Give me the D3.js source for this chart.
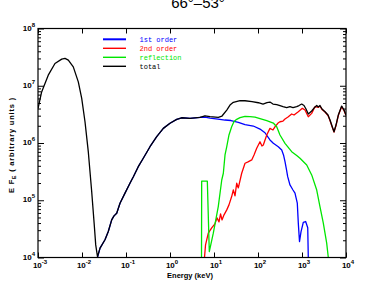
<!DOCTYPE html>
<html>
<head>
<meta charset="utf-8">
<script src="https://cdn.jsdelivr.net/npm/d3@7"></script>
<style>
  html, body { margin: 0; padding: 0; background: #fff; }
  svg { display: block; }
</style>
</head>
<body>
<div id="chart"></div>
<script>
// ---- Data (energy in keV, E·F_E in arbitrary units) ----
const title = "66°–53°";
const xTicks = [1e-3, 1e-2, 1e-1, 1e0, 1e1, 1e2, 1e3, 1e4];
const yTicks = [1e4, 1e5, 1e6, 1e7, 1e8];
const seriesNames = ["1st order", "2nd order", "reflection", "total"];

const totalData = [
  [1.0e-3, 4.0e6], [1.21e-3, 7.8e6], [1.71e-3, 1.53e7], [2.43e-3, 2.45e7], [3.46e-3, 2.92e7],
  [4.11e-3, 3.0e7], [4.89e-3, 2.8e7], [6.34e-3, 2.14e7], [8.24e-3, 1.17e7], [9.85e-3, 6.0e6],
  [1.17e-2, 2.35e6], [1.39e-2, 7.05e5], [1.66e-2, 1.42e5], [1.90e-2, 3.7e4], [2.05e-2, 1.66e4],
  [2.25e-2, 1.03e4], [2.57e-2, 1.46e4], [3.33e-2, 2.04e4], [3.96e-2, 2.84e4], [4.73e-2, 4.54e4],
  [5.34e-2, 5.33e4], [6.15e-2, 5.94e4], [7.31e-2, 8.89e4], [9.49e-2, 1.33e5], [0.123, 1.98e5],
  [0.147, 2.58e5], [0.190, 3.86e5], [0.247, 5.41e5], [0.351, 8.61e5], [0.499, 1.29e6],
  [0.705, 1.80e6], [1.0, 2.21e6], [1.42, 2.59e6], [1.84, 2.76e6], [2.85, 2.70e6], [4.81, 2.81e6],
  [6.24, 2.99e6], [8.11, 2.88e6], [12.5, 2.81e6], [15.2, 2.96e6], [19.5, 3.76e6], [23.1, 4.60e6],
  [27.5, 5.13e6], [39.0, 5.51e6], [50.7, 5.47e6], [73.1, 5.30e6], [102, 5.05e6], [130, 4.79e6],
  [160, 5.08e6], [187, 5.19e6], [219, 4.79e6], [266, 4.69e6], [316, 4.51e6], [370, 4.33e6],
  [449, 4.16e6], [533, 4.33e6], [624, 4.16e6], [758, 4.33e6], [855, 4.51e6], [985, 4.79e6],
  [1110, 4.51e6], [1233, 3.92e6], [1390, 3.21e6], [1660, 3.62e6], [1875, 4.08e6], [2160, 4.51e6],
  [2345, 4.25e6], [2560, 4.51e6], [2850, 3.92e6], [3335, 3.52e6], [3900, 3.08e6], [4330, 2.52e6],
  [4810, 1.98e6], [5340, 1.57e6], [5930, 2.06e6], [6690, 3.08e6], [7980, 4.42e6], [9010, 3.76e6],
  [10000, 3.08e6]
];

const firstOrderData = [
  [2.25e-2, 1.0e4], [2.57e-2, 1.46e4], [3.33e-2, 2.04e4], [3.96e-2, 2.84e4], [4.73e-2, 4.54e4],
  [5.34e-2, 5.33e4], [6.15e-2, 5.94e4], [7.31e-2, 8.89e4], [9.49e-2, 1.33e5], [0.123, 1.98e5],
  [0.147, 2.58e5], [0.190, 3.86e5], [0.247, 5.41e5], [0.351, 8.61e5], [0.499, 1.29e6],
  [0.705, 1.80e6], [1.0, 2.21e6], [1.42, 2.59e6], [1.84, 2.76e6], [2.85, 2.70e6], [4.81, 2.81e6],
  [6.24, 2.84e6], [8.11, 2.73e6], [12.3, 2.62e6], [17.8, 2.52e6], [24.3, 2.47e6], [35.7, 2.30e6],
  [50.7, 2.10e6], [78.2, 1.98e6], [111, 1.75e6], [144, 1.51e6], [187, 1.13e6], [223, 9.88e5],
  [289, 8.61e5], [346, 7.55e5], [380, 6.18e5], [411, 4.72e5], [445, 3.38e5], [473, 2.58e5],
  [533, 1.85e5], [624, 1.51e5], [693, 1.33e5], [782, 8.89e4], [824, 3.98e4], [877, 1.90e4],
  [949, 2.80e4], [1070, 4.11e4], [1210, 4.25e4], [1350, 3.30e4], [1390, 1.0e4]
];

const secondOrderData = [
  [6.08, 1.0e4], [6.42, 1.66e4], [7.42, 2.66e4], [8.87, 3.29e4], [10.5, 3.87e4], [11.7, 4.92e4],
  [13.0, 4.19e4], [14.1, 5.78e4], [15.2, 4.54e4], [16.9, 5.56e4], [19.5, 6.79e4], [21.9, 8.30e4],
  [25.2, 1.16e5], [27.5, 1.51e5], [30.0, 1.19e5], [32.8, 1.98e5], [35.7, 1.64e5], [42.6, 2.96e5],
  [50.7, 4.43e5], [59.3, 4.67e5], [72.0, 5.06e5], [81.2, 6.18e5], [93.4, 8.09e5], [111, 1.05e6],
  [123, 8.87e5], [132, 9.24e5], [158, 1.38e6], [187, 1.80e6], [219, 1.69e6], [243, 1.92e6],
  [285, 2.23e6], [316, 2.35e6], [370, 2.42e6], [411, 2.62e6], [481, 2.84e6], [583, 3.21e6],
  [658, 3.08e6], [824, 3.52e6], [1020, 4.03e6], [1170, 3.76e6], [1390, 2.88e6], [1660, 3.29e6],
  [1970, 4.30e6], [2345, 4.20e6], [2560, 4.40e6], [2850, 3.85e6], [3335, 3.48e6], [3900, 3.02e6],
  [4330, 2.47e6], [4810, 1.94e6], [5340, 1.55e6], [5930, 2.02e6], [6690, 3.02e6], [7980, 4.33e6],
  [9010, 3.69e6], [10000, 3.02e6]
];

const reflectionData = [
  [5.20, 1.0e4], [5.25, 2.16e5], [7.05, 2.16e5], [7.82, 1.27e4], [9.64, 2.66e4], [12.5, 7.74e4],
  [15.0, 2.26e5], [16.3, 2.96e5], [17.8, 6.18e5], [19.5, 8.61e5], [21.9, 1.38e6], [25.2, 1.92e6],
  [28.5, 2.37e6], [32.8, 2.59e6], [39.0, 2.78e6], [50.7, 2.92e6], [65.8, 2.90e6], [85.5, 2.84e6],
  [111, 2.67e6], [158, 2.45e6], [223, 2.23e6], [266, 1.92e6], [316, 1.38e6], [411, 9.88e5],
  [583, 7.05e5], [758, 6.05e5], [901, 5.41e5], [1280, 4.13e5], [1660, 2.77e5], [2160, 1.51e5],
  [2560, 7.74e4], [3050, 3.98e4], [3640, 1.78e4], [3960, 1.0e4]
];

// ---- Layout ----
const W = 382, H = 287;
const margin = { left: 38, right: 36, top: 28.5, bottom: 29.5 };
const pw = W - margin.left - margin.right;
const ph = H - margin.top - margin.bottom;

const svg = d3.select("#chart").append("svg")
  .attr("width", W).attr("height", H)
  .attr("viewBox", `0 0 ${W} ${H}`);

const x = d3.scaleLog().domain([1e-3, 1e4]).range([margin.left, margin.left + pw]);
const y = d3.scaleLog().domain([1e4, 1e8]).range([margin.top + ph, margin.top]);

const series = [
  { name: seriesNames[0], data: firstOrderData, color: "#0000ff", lw: 2 },
  { name: seriesNames[1], data: secondOrderData, color: "#ff0000", lw: 1.4 },
  { name: seriesNames[2], data: reflectionData, color: "#00e600", lw: 1.4 },
  { name: seriesNames[3], data: totalData, color: "#000000", lw: 1.4 }
];

svg.append("defs").append("clipPath").attr("id", "clip")
  .append("rect").attr("x", margin.left).attr("y", margin.top)
  .attr("width", pw).attr("height", ph);

// Title (partly cut off at the top, as in the original)
svg.append("text").attr("x", 198).attr("y", 8)
  .attr("text-anchor", "middle")
  .attr("font-family", "Liberation Sans, Arial, sans-serif")
  .attr("font-size", 15).attr("fill", "#000").text(title);

// Curves
const line = d3.line().x(d => x(d[0])).y(d => y(d[1]));
const g = svg.append("g").attr("clip-path", "url(#clip)");
series.forEach(s => {
  g.append("path").datum(s.data)
    .attr("d", line).attr("fill", "none")
    .attr("stroke", s.color).attr("stroke-width", 1.3)
    .attr("stroke-linejoin", "round");
});

// Frame
svg.append("rect").attr("x", margin.left).attr("y", margin.top)
  .attr("width", pw).attr("height", ph)
  .attr("fill", "none").attr("stroke", "#000").attr("stroke-width", 1.2);

// Axes with inward ticks
const fontTick = "Liberation Sans, Arial, sans-serif";
const xB = d3.axisBottom(x).tickValues(xTicks).tickSize(-5).tickFormat("");
const xT = d3.axisTop(x).tickValues(xTicks).tickSize(-5).tickFormat("");
svg.append("g").attr("transform", `translate(0,${margin.top + ph})`).call(xB).call(a => a.select(".domain").remove());
svg.append("g").attr("transform", `translate(0,${margin.top})`).call(xT).call(a => a.select(".domain").remove());

const yMinor = [];
for (let e = 4; e < 8; e++) for (let m = 2; m <= 9; m++) yMinor.push(m * Math.pow(10, e));
const yL = d3.axisLeft(y).tickValues(yTicks).tickSize(-6).tickFormat("");
const yLm = d3.axisLeft(y).tickValues(yMinor).tickSize(-3).tickFormat("");
const yR = d3.axisRight(y).tickValues(yTicks).tickSize(-6).tickFormat("");
const yRm = d3.axisRight(y).tickValues(yMinor).tickSize(-3).tickFormat("");
[[yL, margin.left], [yLm, margin.left], [yR, margin.left + pw], [yRm, margin.left + pw]].forEach(([ax, tx]) => {
  svg.append("g").attr("transform", `translate(${tx},0)`).call(ax).call(a => a.select(".domain").remove());
});
svg.selectAll(".tick line").attr("stroke", "#000").attr("stroke-width", 1);

// Tick labels as 10^n
function powLabel(sel, v) {
  const e = Math.round(Math.log10(v));
  sel.append("tspan").text("10");
  sel.append("tspan").attr("font-size", 6).attr("dy", -3.8).text(e < 0 ? "-" + (-e) : String(e));
}
xTicks.forEach(v => {
  const t = svg.append("text").attr("x", x(v) + 2).attr("y", margin.top + ph + 10.5)
    .attr("text-anchor", "middle").attr("font-family", fontTick)
    .attr("font-size", 8).attr("font-weight", "bold").attr("fill", "#000");
  powLabel(t, v);
});
yTicks.forEach(v => {
  const t = svg.append("text").attr("x", margin.left - 3).attr("y", y(v) + 2)
    .attr("text-anchor", "end").attr("font-family", fontTick)
    .attr("font-size", 8).attr("font-weight", "bold").attr("fill", "#000");
  powLabel(t, v);
});

// Axis titles
svg.append("text").attr("x", 190).attr("y", 278)
  .attr("text-anchor", "middle").attr("font-family", fontTick)
  .attr("font-size", 7.5).attr("font-weight", "bold").text("Energy (keV)");

const yt = svg.append("text").attr("transform", `translate(14,145) rotate(-90)`)
  .attr("text-anchor", "middle").attr("font-family", fontTick)
  .attr("font-size", 7.5).attr("font-weight", "bold").attr("letter-spacing", 0.8);
yt.append("tspan").text("E F");
yt.append("tspan").attr("font-size", 5).attr("dy", 1.5).text("E");
yt.append("tspan").attr("dy", -1.5).text("  ( arbitrary units )");

// Legend
const legY0 = 39.3, legDy = 9;
series.forEach((s, i) => {
  const yy = legY0 + i * legDy;
  svg.append("line").attr("x1", 103).attr("x2", 126).attr("y1", yy).attr("y2", yy)
    .attr("stroke", s.color).attr("stroke-width", s.lw);
  svg.append("text").attr("x", 139.5).attr("y", yy + 2.3)
    .attr("font-family", "Liberation Mono, DejaVu Sans Mono, monospace")
    .attr("font-size", 7).attr("fill", s.color)
    .text(s.name);
});
</script>
</body>
</html>
